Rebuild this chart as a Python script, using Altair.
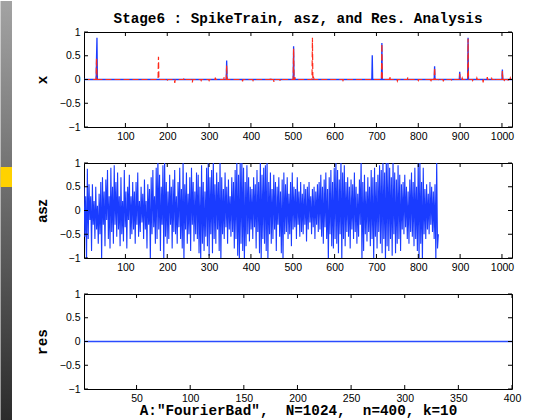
import altair as alt
import pandas as pd
import numpy as np

# ---------------- data ----------------
N = 1024
spike_idx = [31, 32, 342, 502, 690, 713, 839, 899, 919, 1001]
spike_val = [0.48, 0.88, 0.40, 0.70, 0.51, 0.77, 0.28, 0.16, 0.88, 0.21]

rec_idx = [31, 32, 179, 200, 218, 240, 260, 281, 300, 315, 336, 342, 380, 405, 447,
           455, 470, 502, 505, 547, 550, 620, 713, 732, 750, 775, 800, 830, 839, 850,
           860, 880, 899, 905, 919, 930, 940, 955, 965, 975, 985, 1001, 1005, 1015, 1020]
rec_val = [0.45, 0.10, 0.48, -0.03, -0.07, 0.03, -0.06, -0.02, -0.02, 0.04, 0.05, 0.30, -0.04, -0.02, 0.05,
           -0.05, -0.03, 0.65, 0.05, 0.88, 0.03, -0.02, 0.75, 0.07, -0.03, 0.05, -0.02, -0.06, 0.25, -0.03,
           -0.04, -0.02, 0.12, 0.03, 0.86, -0.02, 0.03, -0.06, 0.05, 0.04, -0.03, 0.18, -0.05, -0.05, 0.03]

asz_values = [
    0.5, -0.55, 0.3, -1.1, 0.88, -0.6, 0.55, -0.2, 0.3, -0.85, 0.55, -0.3, 0.2, -0.6, 0.5, -0.4, 0.1, -0.7, 0.35, -0.5,
    0.6, -1.05, 0.7, -0.3, 0.4, -0.75, 0.65, -0.2, 0.85, -0.6, 0.3, -0.8, 0.9, -0.45, 0.5, -0.7, 0.95, -0.3, 0.6, -0.55,
    0.8, -0.4, 0.3, -0.75, 0.7, -0.5, 0.2, -0.65, 0.85, -0.35, 0.4, -0.8, 0.5, -0.2, 0.75, -0.6, 0.3, -0.5, 0.6, -0.4,
    0.4, -0.7, 0.6, -0.3, 0.8, -0.55, 0.2, -0.45, 0.5, -0.25, 0.35, -0.6, 0.65, -0.4, 0.2, -0.8, 0.55, -0.3, 0.45, -1.05,
    0.7, -0.5, 0.85, -0.35, 0.3, -0.7, 0.9, -0.6, 1.1, -0.4, 0.75, -0.85, 0.5, -0.3, 0.95, -1.1, 1.1, -0.55, 0.6, -0.7,
    0.4, -0.6, 0.75, -0.3, 0.5, -0.8, 0.65, -0.45, 0.85, -0.5, 0.3, -0.7, 0.6, -0.35, 0.9, -0.6, 0.45, -0.8, 1.1, -1.1,
    0.55, -0.4, 0.8, -0.7, 0.35, -0.5, 0.7, -0.85, 0.9, -0.3, 0.6, -0.65, 0.4, -0.5, 0.8, -0.6, 0.75, -0.9, 0.5, -1.1,
    0.95, -0.7, 0.6, -0.85, 0.4, -0.55, 0.9, -0.75, 1.1, -0.95, 0.7, -0.5, 0.85, -0.9, 1.1, -0.6, 0.55, -0.7, 0.8, -0.4,
    0.6, -0.85, 1.1, -1.1, 0.7, -0.5, 0.45, -0.6, 0.8, -0.35, 0.5, -0.7, 0.65, -0.4, 0.3, -0.55, 0.7, -0.45, 0.6, -0.8,
    0.85, -0.6, 1.1, -0.95, 0.75, -1.1, 1.1, -0.7, 1.1, -0.85, 0.9, -1.1, 0.6, -0.75, 0.95, -0.5, 0.7, -0.65, 0.5, -0.4,
    0.45, -0.6, 0.7, -0.35, 0.55, -0.8, 0.85, -0.45, 0.6, -0.9, 1.1, -1.1, 0.75, -0.6, 0.9, -0.7, 0.95, -0.85, 1.1, -1.1,
    0.6, -0.5, 0.8, -0.7, 0.45, -0.6, 0.75, -0.4, 0.6, -0.85, 0.5, -0.3, 0.7, -0.55, 0.4, -0.9, 0.65, -1.1, 0.8, -0.5,
    0.55, -0.45, 0.7, -0.6, 0.35, -0.5, 0.6, -0.75, 0.8, -0.4, 0.5, -0.35, 0.45, -0.6, 0.7, -0.3, 0.4, -0.55, 0.6, -0.45,
    0.35, -0.5, 0.55, -0.3, 0.45, -0.65, 0.5, -0.4, 0.6, -0.25, 0.3, -0.5, 0.45, -0.35, 0.5, -0.6, 0.4, -0.3, 0.55, -0.45,
    0.6, -0.4, 0.75, -0.55, 0.5, -0.7, 0.65, -0.35, 0.8, -0.6, 0.45, -1.1, 0.7, -0.5, 0.85, -0.75, 0.6, -0.8, 0.9, -0.6,
    1.1, -0.7, 0.85, -0.9, 0.65, -0.5, 1.1, -1.1, 0.8, -0.6, 0.95, -0.75, 0.6, -0.45, 0.7, -0.55, 0.5, -0.8, 0.65, -0.4,
    0.55, -0.6, 0.8, -0.45, 0.5, -0.7, 0.35, -0.55, 0.65, -0.3, 1.1, -1.1, 0.6, -0.85, 0.75, -0.5, 0.4, -0.65, 0.7, -0.45,
    0.5, -0.75, 0.85, -0.6, 0.7, -1.1, 0.9, -0.55, 0.6, -0.8, 0.75, -0.45, 0.95, -0.7, 0.85, -0.9, 1.1, -0.6, 0.8, -1.1,
    1.1, -0.75, 1.1, -0.85, 0.9, -0.6, 0.7, -0.95, 1.1, -0.5, 0.8, -0.9, 0.65, -0.7, 0.95, -0.6, 0.75, -0.85, 0.55, -0.4,
    0.6, -0.5, 0.75, -0.35, 0.5, -0.6, 0.4, -0.7, 0.65, -0.45, 0.8, -0.55, 0.6, -0.75, 0.9, -0.6, 0.5, -0.85, 1.1, -1.1,
    1.1, -0.7, 0.6, -1.1, 0.9, -0.5, 0.45, -0.6, 0.55, -0.4, 0.35, -0.5, 0.6, -0.3, 0.5, -0.45, 0.4, -0.6, 0.55, -1.1,
    1.1, -0.8, -0.5,
]
asz_last_index = 848

res_values = [0.0] * 400

x_ticks_long = [100, 200, 300, 400, 500, 600, 700, 800, 900, 1000]
x_ticks_short = [50, 100, 150, 200, 250, 300, 350, 400]
y_ticks = [-1, -0.5, 0, 0.5, 1]

TITLE = "Stage6 : SpikeTrain, asz, and Res. Analysis"
XLABEL = 'A:"FourierBad",\u00a0\u00a0N=1024,\u00a0\u00a0n=400, k=10'

# ---------------- tables ----------------
idx = np.arange(1, N + 1)
x_true = np.zeros(N)
x_true[np.array(spike_idx) - 1] = spike_val
x_rec = np.zeros(N)
x_rec[np.array(rec_idx) - 1] = rec_val
df1 = pd.DataFrame({"idx": idx, "true": x_true, "rec": x_rec})
df2 = pd.DataFrame({"idx": np.linspace(1, asz_last_index, len(asz_values)), "val": asz_values})
df3 = pd.DataFrame({"idx": np.arange(1, len(res_values) + 1), "val": res_values})

# ---------------- style ----------------
W, H = 428, 95
LEFT = 83.5
TOP = 31
BLUE = "#1a3cff"
RED = "#ff2a1a"
SANS = "Liberation Sans"
MONO = "Liberation Mono"
TL = 4
FS_TICK = 10.5
FS_TEXT = 14.3

y_scale = alt.Scale(domain=[-1, 1], nice=False, zero=False)
LABEL_EXPR = "datum.value < 0 ? '\u2212' + format(-datum.value, '~g') : format(datum.value, '~g')"


def x_axis(ticks, title=None):
    kw = dict(values=ticks, format="d", grid=False, ticks=False, domain=False, labelFont=SANS,
              labelFontSize=FS_TICK, labelColor="black", labelPadding=4, labelFlush=False,
              labelOverlap=False)
    if title is None:
        kw["title"] = None
    else:
        kw.update(title=title, titleFont=MONO, titleFontSize=FS_TEXT, titleFontWeight="bold",
                  titleColor="black", titleX=W / 2, titleY=21, titleAlign="center",
                  titleBaseline="middle")
    return alt.Axis(**kw)


def y_axis(title, font, size):
    return alt.Axis(values=y_ticks, grid=False, ticks=False, domain=False, labelFont=SANS,
                    labelFontSize=FS_TICK, labelColor="black", labelPadding=4, labelExpr=LABEL_EXPR,
                    labelOverlap=False, title=title, titleFont=font, titleFontSize=size,
                    titleFontWeight="bold", titleColor="black", titleAngle=270,
                    titleX=-42, titleY=H / 2, titleAlign="center", titleBaseline="middle")


def frame_ticks(ticks, xscale, xaxis, yaxis):
    tx = pd.DataFrame({"idx": ticks})
    ty = pd.DataFrame({"val": y_ticks})
    base = dict(color="black", strokeWidth=1)
    bottom = alt.Chart(tx).mark_rule(**base).encode(
        x=alt.X("idx:Q", scale=xscale, axis=xaxis), y=alt.value(H), y2=alt.value(H - TL))
    top = alt.Chart(tx).mark_rule(**base).encode(
        x=alt.X("idx:Q", scale=xscale, axis=xaxis), y=alt.value(0), y2=alt.value(TL))
    left = alt.Chart(ty).mark_rule(**base).encode(
        y=alt.Y("val:Q", scale=y_scale, axis=yaxis), x=alt.value(0), x2=alt.value(TL))
    right = alt.Chart(ty).mark_rule(**base).encode(
        y=alt.Y("val:Q", scale=y_scale, axis=yaxis), x=alt.value(W - TL), x2=alt.value(W))
    return [bottom, top, left, right]


# ---------------- panel 1 ----------------
xs1 = alt.Scale(domain=[1, 1024], nice=False, zero=False)
xa1 = x_axis(x_ticks_long)
ya1 = y_axis("x", MONO, FS_TEXT)
blue1 = alt.Chart(df1).mark_line(color=BLUE, strokeWidth=1.3, clip=True).encode(
    x=alt.X("idx:Q", scale=xs1, axis=xa1), y=alt.Y("true:Q", scale=y_scale, axis=ya1))
red1 = alt.Chart(df1).mark_line(color=RED, strokeWidth=1.2, strokeDash=[6, 3], clip=True).encode(
    x=alt.X("idx:Q", scale=xs1, axis=xa1), y=alt.Y("rec:Q", scale=y_scale, axis=ya1))

strip = alt.Chart(pd.DataFrame({"a": [0]})).mark_rect(
    color=alt.LinearGradient(gradient="linear", x1=0, x2=0, y1=0, y2=1,
                             stops=[alt.GradientStop(offset=0, color="#a3a3a3"),
                                    alt.GradientStop(offset=1, color="#2b2b2b")])
).encode(x=alt.value(-LEFT), x2=alt.value(-LEFT + 11.5), y=alt.value(-TOP), y2=alt.value(420 - TOP))
yellow = alt.Chart(pd.DataFrame({"a": [0]})).mark_rect(color="#ffd200").encode(
    x=alt.value(-LEFT), x2=alt.value(-LEFT + 11.5), y=alt.value(166 - TOP), y2=alt.value(186 - TOP))
title = alt.Chart(pd.DataFrame({"s": [TITLE]})).mark_text(
    font=MONO, fontSize=FS_TEXT, fontWeight="bold", color="black", align="center", baseline="middle"
).encode(x=alt.value(W / 2), y=alt.value(17.5 - TOP), text="s:N")

p1 = alt.layer(strip, yellow, title, blue1, red1,
               *frame_ticks(x_ticks_long, xs1, xa1, ya1)).properties(width=W, height=H)

# ---------------- panel 2 ----------------
xa2 = x_axis(x_ticks_long)
ya2 = y_axis("asz", SANS, 14.5)
line2 = alt.Chart(df2).mark_line(color=BLUE, strokeWidth=1.1, clip=True).encode(
    x=alt.X("idx:Q", scale=xs1, axis=xa2), y=alt.Y("val:Q", scale=y_scale, axis=ya2))
p2 = alt.layer(line2, *frame_ticks(x_ticks_long, xs1, xa2, ya2)).properties(width=W, height=H)

# ---------------- panel 3 ----------------
xs3 = alt.Scale(domain=[1, 400], nice=False, zero=False)
xa3 = x_axis(x_ticks_short, XLABEL)
ya3 = y_axis("res", MONO, FS_TEXT)
line3 = alt.Chart(df3).mark_line(color="#2a4bff", strokeWidth=1.6, clip=True).encode(
    x=alt.X("idx:Q", scale=xs3, axis=xa3), y=alt.Y("val:Q", scale=y_scale, axis=ya3))
p3 = alt.layer(line3, *frame_ticks(x_ticks_short, xs3, xa3, ya3)).properties(width=W, height=H)

chart = alt.vconcat(p1, p2, p3, spacing=36, bounds="flush").properties(
    padding=0, background="white"
).configure_view(stroke="black", strokeWidth=1, fill="white")

chart.save("out.html", embed_options={"renderer": "svg", "actions": False})
